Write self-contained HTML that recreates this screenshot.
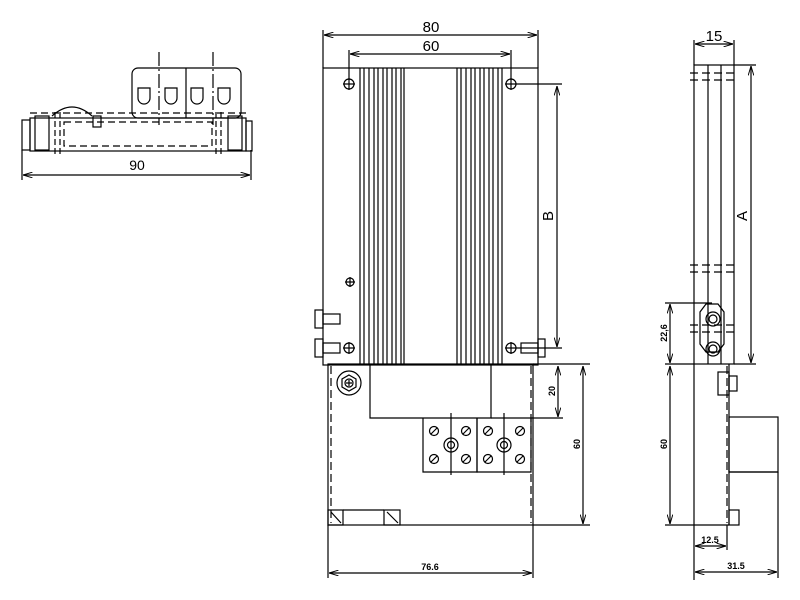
<!DOCTYPE html>
<html><head><meta charset="utf-8"><style>
html,body{margin:0;padding:0;background:#fff}
svg{display:block}
text{font-family:"Liberation Sans",sans-serif;fill:#000}
</style></head><body>
<svg width="800" height="600" viewBox="0 0 800 600" xmlns="http://www.w3.org/2000/svg">
<defs>
<marker id="a" viewBox="0 0 10 6" refX="10" refY="3" markerWidth="8" markerHeight="5" orient="auto-start-reverse"><path d="M0,0L10,3L0,6" fill="none" stroke="#000" stroke-width="1"/></marker>
</defs>
<g fill="none" stroke="#000" stroke-width="1.2">
<!-- LEFT VIEW -->
<rect x="132" y="68" width="109" height="50" rx="6"/>
<line x1="186" y1="68" x2="186" y2="118"/>
<g>
<path d="M138,88 h12 v10 a6,6 0 0 1 -12,0z"/>
<path d="M165,88 h12 v10 a6,6 0 0 1 -12,0z"/>
<path d="M191,88 h12 v10 a6,6 0 0 1 -12,0z"/>
<path d="M218,88 h12 v10 a6,6 0 0 1 -12,0z"/>
</g>
<line x1="159" y1="52" x2="159" y2="125" stroke-dasharray="14,3,2,3"/>
<line x1="213" y1="52" x2="213" y2="125" stroke-dasharray="14,3,2,3"/>
<rect x="30" y="118" width="216" height="33"/>
<line x1="30" y1="113" x2="246" y2="113" stroke-dasharray="7,4"/>
<rect x="64" y="122" width="148" height="24" stroke-dasharray="7,4"/>
<rect x="22" y="120" width="8" height="30"/>
<rect x="246" y="121" width="6" height="30"/>
<rect x="35" y="116" width="14" height="34"/>
<rect x="228" y="116" width="14" height="34"/>
<path d="M52,116 q20,-18 40,0"/>
<rect x="93" y="116" width="8" height="11"/>
<line x1="55" y1="112" x2="55" y2="155" stroke-dasharray="6,3"/>
<line x1="60" y1="112" x2="60" y2="155" stroke-dasharray="6,3"/>
<line x1="216" y1="112" x2="216" y2="155" stroke-dasharray="6,3"/>
<line x1="221" y1="112" x2="221" y2="155" stroke-dasharray="6,3"/>
<line x1="22" y1="150" x2="22" y2="180"/>
<line x1="251" y1="150" x2="251" y2="180"/>
<line x1="23" y1="175" x2="250" y2="175" marker-start="url(#a)" marker-end="url(#a)"/>

<!-- MAIN VIEW -->
<rect x="323" y="68" width="215" height="297"/>
<g>
<line x1="360" y1="68" x2="360" y2="365"/><line x1="364" y1="68" x2="364" y2="365"/>
<line x1="369" y1="68" x2="369" y2="365"/><line x1="374" y1="68" x2="374" y2="365"/>
<line x1="378" y1="68" x2="378" y2="365"/><line x1="383" y1="68" x2="383" y2="365"/>
<line x1="387" y1="68" x2="387" y2="365"/><line x1="392" y1="68" x2="392" y2="365"/>
<line x1="396" y1="68" x2="396" y2="365"/><line x1="401" y1="68" x2="401" y2="365"/>
<line x1="404" y1="68" x2="404" y2="365"/>
<line x1="457" y1="68" x2="457" y2="365"/><line x1="461" y1="68" x2="461" y2="365"/>
<line x1="466" y1="68" x2="466" y2="365"/><line x1="471" y1="68" x2="471" y2="365"/>
<line x1="475" y1="68" x2="475" y2="365"/><line x1="480" y1="68" x2="480" y2="365"/>
<line x1="484" y1="68" x2="484" y2="365"/><line x1="489" y1="68" x2="489" y2="365"/>
<line x1="493" y1="68" x2="493" y2="365"/><line x1="498" y1="68" x2="498" y2="365"/>
<line x1="502" y1="68" x2="502" y2="365"/>
</g>
<g>
<circle cx="349" cy="84" r="5"/><path d="M343,84h12M349,78v12"/>
<circle cx="511" cy="84" r="5"/><path d="M505,84h12M511,78v12"/>
<circle cx="350" cy="282" r="4"/><path d="M345,282h10M350,277v10"/>
<circle cx="349" cy="348" r="5"/><path d="M343,348h12M349,342v12"/>
<circle cx="511" cy="348" r="5"/><path d="M505,348h12M511,342v12"/>
</g>
<rect x="315" y="310" width="8" height="18"/><rect x="323" y="314" width="17" height="10"/>
<rect x="315" y="339" width="8" height="18"/><rect x="323" y="343" width="17" height="10"/>
<rect x="521" y="343" width="17" height="10"/><rect x="538" y="339" width="7" height="18"/>
<line x1="323" y1="68" x2="323" y2="30"/><line x1="538" y1="68" x2="538" y2="30"/>
<line x1="324" y1="35" x2="537" y2="35" marker-start="url(#a)" marker-end="url(#a)"/>
<line x1="349" y1="80" x2="349" y2="50"/><line x1="511" y1="80" x2="511" y2="50"/>
<line x1="350" y1="54" x2="510" y2="54" marker-start="url(#a)" marker-end="url(#a)"/>
<line x1="517" y1="84" x2="562" y2="84"/><line x1="517" y1="348" x2="562" y2="348"/>
<line x1="557" y1="86" x2="557" y2="347" marker-start="url(#a)" marker-end="url(#a)"/>
<rect x="328" y="364" width="205" height="161"/>
<line x1="331" y1="366" x2="331" y2="523" stroke-dasharray="8,4"/>
<line x1="531" y1="366" x2="531" y2="523" stroke-dasharray="8,4"/>
<path d="M370,364 V418 H491 V364"/>
<path d="M423,418 V472 H477 V418"/><path d="M477,418 V472 H531 V418"/>
<circle cx="349" cy="383" r="12"/><path d="M349,375 l7,4 v8 l-7,4 l-7,-4 v-8z"/><circle cx="349" cy="383" r="4"/><path d="M346,383h6M349,380v6"/>
<g>
<circle cx="434" cy="431" r="4.5"/><circle cx="466" cy="431" r="4.5"/><circle cx="434" cy="459" r="4.5"/><circle cx="466" cy="459" r="4.5"/>
<circle cx="488" cy="431" r="4.5"/><circle cx="520" cy="431" r="4.5"/><circle cx="488" cy="459" r="4.5"/><circle cx="520" cy="459" r="4.5"/>
<path d="M431,434l6,-6M463,434l6,-6M431,462l6,-6M463,462l6,-6M485,434l6,-6M517,434l6,-6M485,462l6,-6M517,462l6,-6"/>
<path d="M444,445 a7,7 0 0 1 7,-7 a7,7 0 0 1 7,7 a7,7 0 0 1 -7,7 a7,7 0 0 1 -7,-7z"/><circle cx="451" cy="445" r="3.5"/>
<path d="M497,445 a7,7 0 0 1 7,-7 a7,7 0 0 1 7,7 a7,7 0 0 1 -7,7 a7,7 0 0 1 -7,-7z"/><circle cx="504" cy="445" r="3.5"/>
<line x1="451" y1="413" x2="451" y2="475"/><line x1="504" y1="413" x2="504" y2="475"/>
</g>
<rect x="328" y="510" width="15" height="15"/><rect x="384" y="510" width="16" height="15"/><path d="M343,510H384"/>
<path d="M331,512l10,11M387,512l11,11"/>
<line x1="491" y1="418" x2="563" y2="418"/><line x1="533" y1="364" x2="590" y2="364"/><line x1="533" y1="525" x2="590" y2="525"/>
<line x1="558" y1="366" x2="558" y2="417" marker-start="url(#a)" marker-end="url(#a)"/>
<line x1="583" y1="366" x2="583" y2="524" marker-start="url(#a)" marker-end="url(#a)"/>
<line x1="328" y1="525" x2="328" y2="578"/><line x1="533" y1="525" x2="533" y2="578"/>
<line x1="329" y1="573" x2="532" y2="573" marker-start="url(#a)" marker-end="url(#a)"/>

<!-- RIGHT VIEW -->
<rect x="694" y="65" width="40" height="299"/>
<line x1="708" y1="65" x2="708" y2="364"/><line x1="721" y1="65" x2="721" y2="364"/>
<g stroke-dasharray="8,4">
<line x1="690" y1="73" x2="738" y2="73"/><line x1="690" y1="80" x2="738" y2="80"/>
<line x1="690" y1="265" x2="738" y2="265"/><line x1="690" y1="272" x2="738" y2="272"/>
<line x1="690" y1="325" x2="738" y2="325"/><line x1="690" y1="332" x2="738" y2="332"/>
</g>
<path d="M706,304 h12 l6,8 v32 l-6,8 h-12 l-6,-8 v-32z"/>
<circle cx="713" cy="319" r="7"/><circle cx="713" cy="319" r="4"/>
<circle cx="713" cy="349" r="7"/><circle cx="713" cy="349" r="4"/>
<line x1="694" y1="40" x2="694" y2="65"/><line x1="734" y1="40" x2="734" y2="65"/>
<line x1="695" y1="44" x2="733" y2="44" marker-start="url(#a)" marker-end="url(#a)"/>
<line x1="734" y1="65" x2="756" y2="65"/><line x1="734" y1="364" x2="756" y2="364"/>
<line x1="751" y1="66" x2="751" y2="363" marker-start="url(#a)" marker-end="url(#a)"/>
<line x1="665" y1="303" x2="712" y2="303"/><line x1="665" y1="364" x2="694" y2="364"/>
<line x1="670" y1="304" x2="670" y2="363" marker-start="url(#a)" marker-end="url(#a)"/>
<line x1="694" y1="364" x2="694" y2="580"/>
<line x1="727" y1="366" x2="727" y2="523" stroke-dasharray="8,4"/>
<line x1="729" y1="364" x2="729" y2="525"/>
<rect x="718" y="372" width="11" height="23"/><rect x="729" y="376" width="8" height="15"/>
<rect x="729" y="417" width="49" height="55"/><line x1="729" y1="472" x2="778" y2="472"/>
<rect x="729" y="510" width="10" height="15"/>
<line x1="665" y1="525" x2="729" y2="525"/>
<line x1="670" y1="366" x2="670" y2="524" marker-start="url(#a)" marker-end="url(#a)"/>
<line x1="727" y1="525" x2="727" y2="550"/><line x1="778" y1="472" x2="778" y2="578"/>
<line x1="695" y1="546" x2="726" y2="546" marker-start="url(#a)" marker-end="url(#a)"/>
<line x1="695" y1="572" x2="777" y2="572" marker-start="url(#a)" marker-end="url(#a)"/>
</g>
<text x="137" y="170" font-size="14" text-anchor="middle">90</text>
<text x="431" y="32" font-size="15" text-anchor="middle">80</text>
<text x="431" y="51" font-size="15" text-anchor="middle">60</text>
<text x="714" y="41" font-size="15" text-anchor="middle">15</text>
<text transform="translate(553,216) rotate(-90)" font-size="15" text-anchor="middle">B</text>
<text transform="translate(747,216) rotate(-90)" font-size="15" text-anchor="middle">A</text>
<text transform="translate(555,391) rotate(-90)" font-size="9" font-weight="bold" text-anchor="middle">20</text>
<text transform="translate(580,444) rotate(-90)" font-size="9" font-weight="bold" text-anchor="middle">60</text>
<text x="430" y="570" font-size="9" font-weight="bold" text-anchor="middle">76.6</text>
<text transform="translate(667,333) rotate(-90)" font-size="9" font-weight="bold" text-anchor="middle">22,6</text>
<text transform="translate(667,444) rotate(-90)" font-size="9" font-weight="bold" text-anchor="middle">60</text>
<text x="710" y="543" font-size="9" font-weight="bold" text-anchor="middle">12.5</text>
<text x="736" y="569" font-size="9" font-weight="bold" text-anchor="middle">31.5</text>
</svg>
</body></html>
